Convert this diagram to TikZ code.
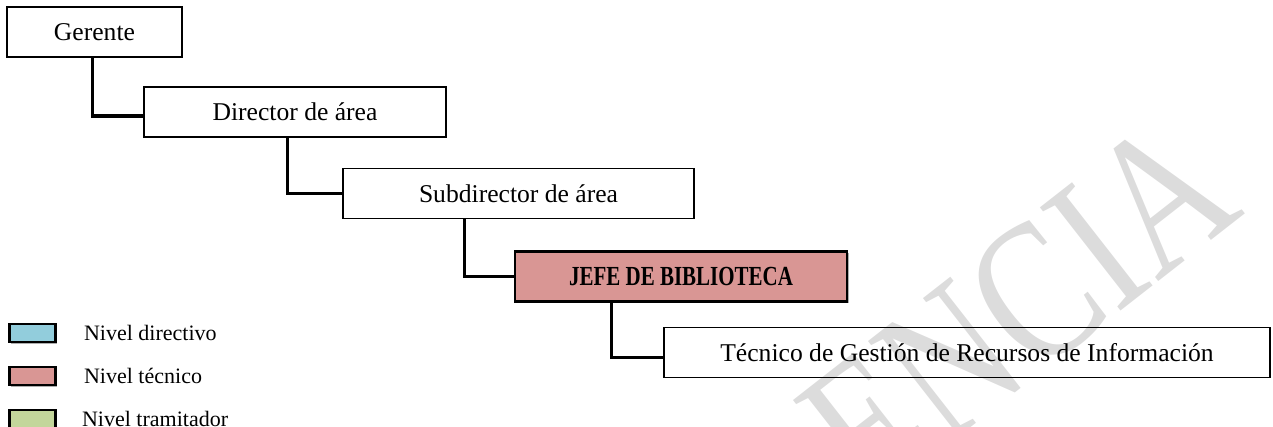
\documentclass[tikz,border=0pt]{standalone}
\usepackage{fontspec}
\setmainfont{Liberation Serif}
\newfontfamily\narrowfont[FakeStretch=0.76]{Liberation Serif}
\newfontfamily\marcafont[FakeStretch=0.78]{Liberation Serif}
\usetikzlibrary{positioning,shadows}

\definecolor{nivdir}{HTML}{92CDDC}
\definecolor{nivtec}{HTML}{D99694}
\definecolor{nivtra}{HTML}{C3D69B}
\definecolor{marca}{HTML}{DCDCDC}

\begin{document}
\begin{tikzpicture}[x=0.5pt, y=-0.5pt,
        box/.style={draw, line width=0.7pt, minimum height=25pt, inner sep=0pt,
            font=\fontsize{12.8}{15}\selectfont},
        conn/.style={line width=1.6pt},
        shade/.style={drop shadow={shadow xshift=0.8pt, shadow yshift=-0.8pt, opacity=0.45, fill=black!70}},
        legbox/.style={draw, line width=1.2pt, minimum width=23pt, minimum height=9pt, inner sep=0pt, shade},
        legtext/.style={anchor=west, inner sep=0pt, font=\fontsize{11}{13}\selectfont}]

            \useasboundingbox (0,0) rectangle (1273,427);

            % Watermark
            \begin{scope}
                \clip (0,0) rectangle (1273,427);
                \node[text=marca, rotate=38, font=\marcafont\fontsize{100}{100}\selectfont] (marca) at (1018,308) {ENCIA};
            \end{scope}

            % Boxes
            \node[box, minimum width=87.5pt] (ger) at (94.5,32) {Gerente};
            \node[box, minimum width=151pt] (dir) at (295,112) {Director de área};
            \node[box, minimum width=175.5pt] (sub) at (518.5,193.5) {Subdirector de área};
            \node[box, minimum width=166pt, fill=nivtec, line width=1.2pt, shade] (jefe) at (681,276.5)
                {\narrowfont\fontsize{13.8}{15}\selectfont\bfseries JEFE DE BIBLIOTECA};
            \node[box, minimum width=303pt] (tec) at (967,352.5) {Técnico de Gestión de Recursos de Información};

            % Connectors
            \draw[conn] ([xshift=43pt]ger.south west) |- ([yshift=-2pt]dir.west);
            \draw[conn] ([xshift=72pt]dir.south west) |- (sub.west);
            \draw[conn] ([xshift=61pt]sub.south west) |- (jefe.west);
            \draw[conn] ([xshift=49pt]jefe.south west) |- ([yshift=-2.5pt]tec.west);

            % Legend
            \node[legbox, fill=nivdir] (ldir) at (32.5,333) {};
            \node[legbox, fill=nivtec, below=11.25pt of ldir] (ltec) {};
            \node[legbox, fill=nivtra, below=11.25pt of ltec] (ltra) {};
            \node[legtext, right=13.5pt of ldir] (tdir) {Nivel directivo};
            \node[legtext, right=13.5pt of ltec] (ttec) {Nivel técnico};
            \node[legtext, right=12.5pt of ltra] (ttra) {Nivel tramitador};

        \end{tikzpicture}
\end{document}
